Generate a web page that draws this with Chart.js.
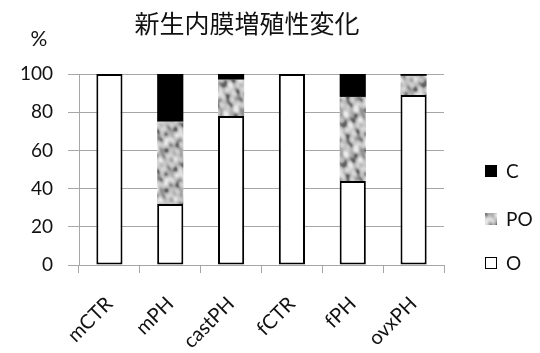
<!DOCTYPE html>
<html><head><meta charset="utf-8">
<script src="https://cdn.jsdelivr.net/npm/chart.js@4/dist/chart.umd.min.js"></script>
<style>html,body{margin:0;padding:0;background:#fff}#wrap{width:540px;height:353px}</style>
</head><body><div id="wrap"><canvas id="c" width="540" height="353"></canvas></div>
<script>
const categories = ['mCTR', 'mPH', 'castPH', 'fCTR', 'fPH', 'ovxPH'];
const seriesO  = [100, 32, 78, 100, 44, 89];
const seriesPO = [0, 43, 19, 0, 44, 10];
const seriesC  = [0, 25, 3, 0, 12, 1];
const yTicks = [0, 20, 40, 60, 80, 100];
const seriesNames = ['O', 'PO', 'C'];
const chartTitle = '新生内膜増殖性変化';
const unitLabel = '%';

const GRID = '#a6a6a6';
const TEXT = '#111111';

// Tileable grey marbled texture used for the PO segments
function marblePattern(ctx) {
  const s = 40, cv = document.createElement('canvas');
  cv.width = cv.height = s;
  const g = cv.getContext('2d');
  const img = g.createImageData(s, s);
  const a = 2 * Math.PI / s;
  const waves = [[1, 2, 0.3, 1.0], [3, -1, 1.1, 0.8], [2, 3, 2.0, 0.7], [-4, 1, 0.6, 0.6], [5, 2, 2.7, 0.5], [-2, 5, 1.9, 0.5], [6, -3, 0.2, 0.4]];
  for (let y = 0; y < s; y++) {
    for (let x = 0; x < s; x++) {
      let v = 0;
      for (const [fx, fy, ph, amp] of waves) v += amp * Math.sin(a * (fx * x + fy * y) + ph);
      const m = Math.min(0, v);
      const c = Math.max(100, Math.min(232, Math.round(188 + 17 * v - 8 * m * m)));
      const i = (y * s + x) * 4;
      img.data[i] = img.data[i + 1] = img.data[i + 2] = c;
      img.data[i + 3] = 255;
    }
  }
  g.putImageData(img, 0, 0);
  return ctx.createPattern(cv, 'repeat');
}

const canvas = document.getElementById('c');
const ctx = canvas.getContext('2d');
const poFill = marblePattern(ctx);

// Title, unit label and a vertical legend on the right
const decor = {
  id: 'decor',
  afterDraw(chart) {
    const c = chart.ctx, area = chart.chartArea;
    c.save();
    c.fillStyle = TEXT;
    c.textBaseline = 'middle';
    c.textAlign = 'center';
    c.font = '25px "Noto Sans CJK JP"';
    c.fillText(chartTitle, 247, 23);
    c.font = '21px Lato';
    c.fillText(unitLabel, 39, 39);

    const rows = [171, 219, 263];
    const ds = chart.data.datasets.slice().reverse();
    c.textAlign = 'left';
    c.font = '19px Lato';
    ds.forEach((d, k) => {
      const y = rows[k], x = area.right + 41;
      if (d.label === 'O') {
        c.fillStyle = '#fff';
        c.fillRect(x, y - 6, 12, 12);
        c.strokeStyle = '#000';
        c.lineWidth = 1;
        c.strokeRect(x + 0.5, y - 5.5, 11, 11);
      } else {
        c.fillStyle = d.backgroundColor;
        c.fillRect(x, y - 6, 12, 12);
      }
      c.fillStyle = TEXT;
      c.fillText(d.label, x + 21, y + 1);
    });
    c.restore();
  }
};

new Chart(ctx, {
  type: 'bar',
  data: {
    labels: categories,
    datasets: [
      { label: seriesNames[0], data: seriesO, backgroundColor: '#ffffff', borderColor: '#000000', borderWidth: 2, borderSkipped: false },
      { label: seriesNames[1], data: seriesPO, backgroundColor: poFill, borderWidth: 0 },
      { label: seriesNames[2], data: seriesC, backgroundColor: '#000000', borderWidth: 0 }
    ]
  },
  options: {
    responsive: false,
    animation: false,
    devicePixelRatio: 1,
    layout: { padding: { top: 74, right: 96, left: 0, bottom: 0 } },
    datasets: { bar: { categoryPercentage: 1, barPercentage: 0.43 } },
    scales: {
      x: {
        stacked: true,
        afterFit(s) { s.height = 88; },
        grid: { offset: true, drawOnChartArea: false, drawTicks: true, tickLength: 8, color: GRID },
        border: { color: GRID },
        ticks: { maxRotation: 45, minRotation: 45, color: TEXT, font: { family: 'Lato', size: 20 }, padding: 19 }
      },
      y: {
        stacked: true,
        min: 0,
        max: 100,
        afterFit(s) { s.width = 79; },
        afterBuildTicks(s) { s.ticks = yTicks.map(v => ({ value: v })); },
        grid: { color: GRID, tickLength: 11 },
        border: { color: GRID },
        ticks: { color: TEXT, font: { family: 'Lato', size: 19 }, padding: 15 }
      }
    },
    plugins: { legend: { display: false }, tooltip: { enabled: false }, title: { display: false } }
  },
  plugins: [decor]
});
</script>
</body></html>
